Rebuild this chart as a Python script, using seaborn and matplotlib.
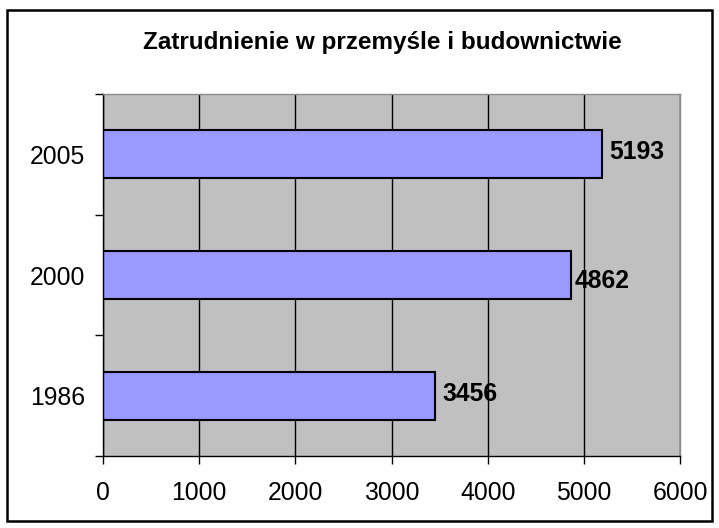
import pandas as pd
import matplotlib
matplotlib.use("Agg")
import matplotlib.pyplot as plt
import seaborn as sns
from matplotlib.patches import Rectangle
from matplotlib.ticker import FixedLocator

# data
years = ["2005", "2000", "1986"]
employment = [5193, 4862, 3456]
x_ticks = [0, 1000, 2000, 3000, 4000, 5000, 6000]
title = "Zatrudnienie w przemyśle i budownictwie"

df = pd.DataFrame({"year": years, "employment": employment})

sns.set_theme(style="white")
plt.rcParams["font.family"] = ["Liberation Sans", "DejaVu Sans"]

fig = plt.figure(figsize=(7.19, 5.28), dpi=100)
ax = fig.add_axes([103 / 719, 1 - 456 / 528, 577 / 719, 362 / 528])
ax.set_facecolor("#C0C0C0")

sns.barplot(data=df, x="employment", y="year", order=years, color="#9999FF",
            edgecolor="black", linewidth=1.5, width=0.4, saturation=1, ax=ax)

ax.set_xlim(0, 6000)
ax.set_ylim(len(years) - 0.5, -0.5)
ax.set_xticks(x_ticks)
ax.set_xticklabels([str(t) for t in x_ticks])
ax.grid(axis="x", color="black", linewidth=1)
ax.set_axisbelow(True)

# category boundary ticks on the y axis, labels without ticks
ax.yaxis.set_minor_locator(FixedLocator([i - 0.5 for i in range(len(years) + 1)]))
ax.tick_params(axis="y", which="major", length=0, pad=13, labelsize=17.8, colors="black")
ax.tick_params(axis="y", which="minor", left=True, length=6, width=1, color="black")
ax.tick_params(axis="x", which="major", bottom=True, length=6, width=1, pad=12,
               labelsize=17.8, colors="black")

ax.set_xlabel("")
ax.set_ylabel("")
for side in ["left", "bottom"]:
    ax.spines[side].set_color("black")
    ax.spines[side].set_linewidth(1)
for side in ["top", "right"]:
    ax.spines[side].set_color("#8A8A8A")
    ax.spines[side].set_linewidth(1)

# value labels at the end of each bar
nudges = [(7, 2), (4, -6), (7, 2)]
for i, (val, (dx, dy)) in enumerate(zip(employment, nudges)):
    ax.annotate(str(val), xy=(val, i), xytext=(dx * 0.72, dy * 0.72),
                textcoords="offset points", ha="left", va="center",
                fontsize=17.8, fontweight="bold", color="black")

fig.text(382 / 719, 1 - 42 / 528, title, ha="center", va="center",
         fontsize=17.5, fontweight="bold", color="black")

# outer chart frame
fig.patches.append(Rectangle((7 / 719, 1 - 521 / 528), 705 / 719, 511 / 528,
                             transform=fig.transFigure, fill=False,
                             edgecolor="black", linewidth=1.8))

fig.savefig("out.png", dpi=100, facecolor="white")
